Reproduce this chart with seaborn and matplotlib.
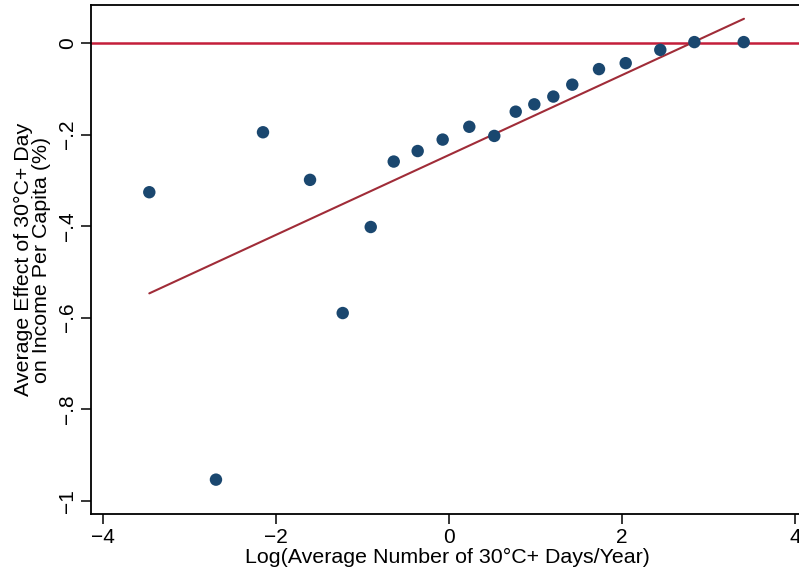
import numpy as np
import pandas as pd
import matplotlib
matplotlib.use("Agg")
import matplotlib.pyplot as plt
import seaborn as sns

# binned scatter values
log_days = [-3.468, -2.697, -2.153, -1.609, -1.231, -0.907, -0.641, -0.364,
            -0.075, 0.233, 0.522, 0.770, 0.985, 1.205, 1.424, 1.733,
            2.042, 2.442, 2.836, 3.407]
effect = [-0.326, -0.954, -0.195, -0.299, -0.590, -0.402, -0.259, -0.236,
          -0.211, -0.183, -0.203, -0.150, -0.134, -0.117, -0.091, -0.057,
          -0.044, -0.015, 0.002, 0.002]

# fitted line end points
fit_x = [-3.468, 3.410]
fit_y = [-0.547, 0.053]

xticks = [-4, -2, 0, 2, 4]
yticks = [0, -0.2, -0.4, -0.6, -0.8, -1]
ytick_labels = ["0", "\u2212.2", "\u2212.4", "\u2212.6", "\u2212.8", "\u22121"]
xtick_labels = ["\u22124", "\u22122", "0", "2", "4"]

df = pd.DataFrame({"x": log_days, "y": effect})
fit = pd.DataFrame({"x": fit_x, "y": fit_y})

sns.set_theme(style="white")
plt.rcParams['font.family'] = ['Liberation Sans', 'DejaVu Sans']

W, H = 799, 573
fig = plt.figure(figsize=(W / 100, H / 100), dpi=100)
left, right, top, bottom = 91, 804, 5, 514
ax = fig.add_axes([left / W, (H - bottom) / H, (right - left) / W, (bottom - top) / H])

ax.axhline(0, color="#c41e3a", lw=1.8, zorder=1)
sns.lineplot(data=fit, x="x", y="y", ax=ax, color="#a02c38", lw=1.5, zorder=2)
sns.scatterplot(data=df, x="x", y="y", ax=ax, color="#1a476f", s=80,
                edgecolor="none", zorder=3)

px_x = 86.46
x0 = -4 - (103.3 - left) / px_x
x1 = 4 + (right - 795) / px_x
ax.set_xlim(x0, x1)
px_y = 457.5
ax.set_ylim(-1 - (bottom - 500.7) / px_y, (43 - top) / px_y)

ax.set_xticks(xticks)
ax.set_xticklabels(xtick_labels)
ax.set_yticks(yticks)
ax.set_yticklabels(ytick_labels, rotation=90, va="center")

for s in ax.spines.values():
    s.set_color("black")
    s.set_linewidth(1.3)

ax.tick_params(axis="both", which="major", direction="out", length=7, width=1.1,
               color="black", labelsize=15, labelcolor="black", pad=3,
               bottom=True, left=True)

ax.set_xlabel("Log(Average Number of 30°C+ Days/Year)", fontsize=15.4,
              color="black", labelpad=1)
ax.set_ylabel("Average Effect of 30°C+ Day\non Income Per Capita (%)",
              fontsize=15.4, color="black", labelpad=5, linespacing=0.95)

fig.savefig("out.png", dpi=100)
